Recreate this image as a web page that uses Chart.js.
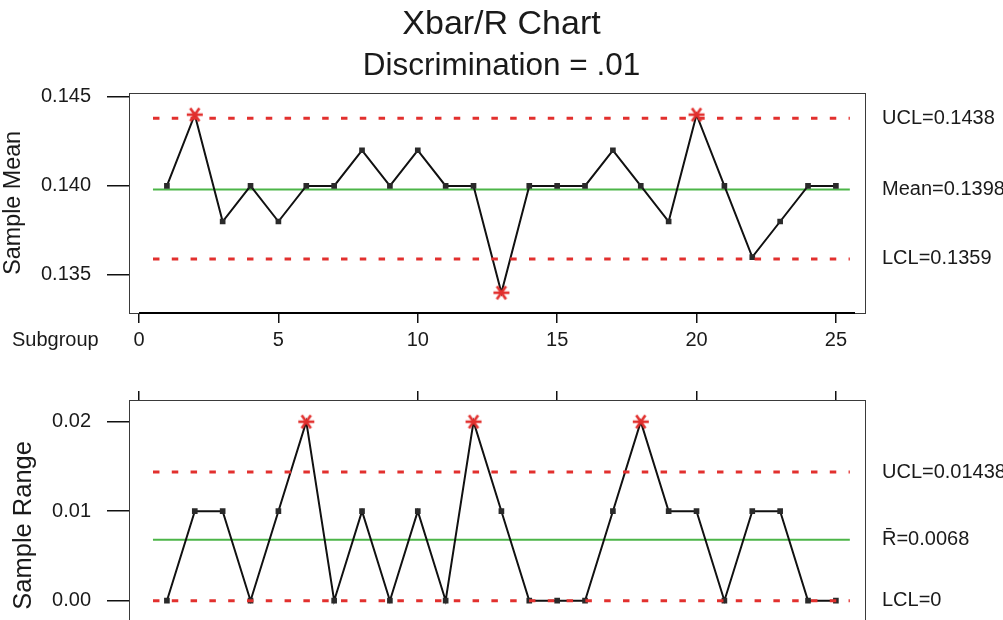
<!DOCTYPE html>
<html><head><meta charset="utf-8">
<script src="https://cdn.jsdelivr.net/npm/chart.js@4/dist/chart.umd.min.js"></script>
<style>
html,body{margin:0;padding:0;background:#fff;overflow:hidden;width:1003px;height:620px;position:relative}
#c1{position:absolute;left:0;top:0}
#c2{position:absolute;left:0;top:365px}
</style></head><body>
<canvas id="c1" width="1003" height="365"></canvas>
<canvas id="c2" width="1003" height="320"></canvas>
<script>
// ---- data ----
const subgroups = [1,2,3,4,5,6,7,8,9,10,11,12,13,14,15,16,17,18,19,20,21,22,23,24,25];
const sampleMeans = [0.140,0.144,0.138,0.140,0.138,0.140,0.140,0.142,0.140,0.142,0.140,0.140,0.134,0.140,0.140,0.140,0.142,0.140,0.138,0.144,0.140,0.136,0.138,0.140,0.140];
const sampleRanges = [0,0.01,0.01,0,0.01,0.02,0,0.01,0,0.01,0,0.02,0.01,0,0,0,0.01,0.02,0.01,0.01,0,0.01,0.01,0,0];
const meanLimits = [0.1438, 0.1398, 0.1359];       // UCL, centre, LCL
const meanLimitLabels = ['UCL=0.1438', 'Mean=0.1398', 'LCL=0.1359'];
const rangeLimits = [0.01438, 0.0068, 0];          // UCL, centre, LCL
const rangeLimitLabels = ['UCL=0.01438', 'R\u0304=0.0068', 'LCL=0'];
const meanTicks = [0.135, 0.140, 0.145];
const rangeTicks = [0.00, 0.01, 0.02];
const subgroupTicks = [0, 5, 10, 15, 20, 25];
const limitSpan = [0.5, 25.5];

// ---- styles ----
const FONT = "'Liberation Sans', Arial, sans-serif";
const TXT = '#1a1a1a';
const RED = '#e2302e';
const GREEN = '#4cb548';

function makeStar(){
  const c = document.createElement('canvas'); c.width = 20; c.height = 20;
  const g = c.getContext('2d'); g.strokeStyle = RED; g.lineWidth = 2.6; g.translate(10,10);
  const r = 8;
  for (const a of [0, 55, 125]) {
    const t = a*Math.PI/180;
    g.beginPath(); g.moveTo(-r*Math.cos(t), -r*Math.sin(t)); g.lineTo(r*Math.cos(t), r*Math.sin(t)); g.stroke();
  }
  return c;
}
const STAR = makeStar();

function pts(xs, ys){ return xs.map((x,i)=>({x:x, y:ys[i]})); }
function limitLine(v, dashed){
  return {
    data: pts(limitSpan, [v, v]), borderColor: dashed ? RED : GREEN, borderWidth: dashed ? 3 : 2,
    borderDash: dashed ? [6.5, 12.3] : [], borderCapStyle: 'butt', pointRadius: 0, order: dashed ? 0 : 2,
    xAxisID: 'x', yAxisID: 'y'
  };
}
function series(ys, ucl, lcl){
  return {
    data: pts(subgroups, ys), borderColor: '#111', borderWidth: 2, order: 1,
    pointStyle: c => (c.raw && (c.raw.y > ucl + 1e-9 || c.raw.y < lcl - 1e-9)) ? STAR : 'rect',
    pointRadius: 4, pointBackgroundColor: '#2a2a2a', pointBorderWidth: 0,
    xAxisID: 'x', yAxisID: 'y'
  };
}
const framePlugin = {
  id: 'frame',
  afterDraw(chart, args, opts){
    const {ctx, chartArea: a} = chart;
    ctx.save();
    ctx.strokeStyle = '#3a3a3a'; ctx.lineWidth = 1;
    ctx.strokeRect(Math.round(a.left)+0.5, Math.round(a.top)+0.5, Math.round(a.right-a.left)-1, Math.round(a.bottom-a.top));
    if (opts.axisLine) {
      const xs = chart.scales.x;
      ctx.strokeStyle = '#000'; ctx.lineWidth = 2.2;
      ctx.beginPath(); ctx.moveTo(xs.getPixelForValue(subgroupTicks[0]), a.bottom); ctx.lineTo(a.right - 11, a.bottom); ctx.stroke();
    }
    if (opts.subgroupText) {
      ctx.fillStyle = TXT; ctx.font = '20px ' + FONT; ctx.textBaseline = 'middle'; ctx.textAlign = 'left';
      ctx.fillText(opts.subgroupText, 12, a.bottom + 27);
    }
    ctx.restore();
  }
};

function yScales(min, max, ticks, fmt, title, titleSize, titlePad, limits, labels){
  return {
    y: {
      position: 'left', min: min, max: max,
      afterBuildTicks: s => { s.ticks = ticks.map(v => ({value: v})); },
      afterFit: s => { s.width = 129; },
      grid: {drawOnChartArea: false, drawTicks: true, tickLength: 22, color: '#111', lineWidth: 1.5},
      border: {display: false},
      ticks: {padding: 16, color: TXT, font: {family: FONT, size: 20}, callback: v => v.toFixed(fmt)},
      title: {display: true, text: title, color: TXT, font: {family: FONT, size: titleSize, lineHeight: 1}, padding: {top: titlePad, bottom: 0}}
    },
    y2: {
      position: 'right', min: min, max: max,
      afterBuildTicks: s => { s.ticks = limits.map(v => ({value: v})); },
      afterFit: s => { s.width = 137; },
      grid: {display: false, drawTicks: false},
      border: {display: false},
      ticks: {padding: 16, color: TXT, font: {family: FONT, size: 20}, autoSkip: false,
        callback: v => { const i = limits.findIndex(l => Math.abs(l - v) < 1e-9); return i >= 0 ? labels[i] : ''; }}
    }
  };
}

Chart.defaults.font.family = FONT;

new Chart(document.getElementById('c1'), {
  type: 'line',
  data: { datasets: [
    limitLine(meanLimits[0], true), limitLine(meanLimits[2], true),
    series(sampleMeans, meanLimits[0], meanLimits[2]),
    limitLine(meanLimits[1], false)
  ]},
  options: {
    responsive: false, animation: false, events: [],
    layout: {padding: 0},
    plugins: {
      legend: {display: false}, tooltip: {enabled: false},
      title: {display: true, text: 'Xbar/R Chart', color: TXT, font: {family: FONT, size: 34, weight: 'normal', lineHeight: 1.2}, padding: {top: 4, bottom: 3}},
      subtitle: {display: true, text: 'Discrimination = .01', color: TXT, font: {family: FONT, size: 31.5, weight: 'normal', lineHeight: 1.2}, padding: {top: 0, bottom: 7}},
      frame: {axisLine: true, subgroupText: 'Subgroup'}
    },
    scales: Object.assign({
      x: {
        type: 'linear', position: 'bottom', min: -0.36, max: 26.08,
        afterBuildTicks: s => { s.ticks = subgroupTicks.map(v => ({value: v})); },
        afterFit: s => { s.height = 52; },
        grid: {drawOnChartArea: false, drawTicks: true, tickLength: 10, color: '#111', lineWidth: 1.5},
        border: {display: false},
        ticks: {padding: 5, color: TXT, font: {family: FONT, size: 20}, maxRotation: 0, autoSkip: false}
      }
    }, yScales(0.13286, 0.14524, meanTicks, 3, 'Sample Mean', 23.3, 2, meanLimits, meanLimitLabels))
  },
  plugins: [framePlugin]
});

new Chart(document.getElementById('c2'), {
  type: 'line',
  data: { datasets: [
    limitLine(rangeLimits[0], true), limitLine(rangeLimits[2], true),
    series(sampleRanges, rangeLimits[0], rangeLimits[2]),
    limitLine(rangeLimits[1], false)
  ]},
  options: {
    responsive: false, animation: false, events: [],
    layout: {padding: {top: 26, bottom: 62.6, left: 0, right: 0}},
    plugins: {
      legend: {display: false}, tooltip: {enabled: false},
      frame: {axisLine: false}
    },
    scales: Object.assign({
      x: {
        type: 'linear', position: 'top', min: -0.36, max: 26.08,
        afterBuildTicks: s => { s.ticks = subgroupTicks.map(v => ({value: v})); },
        afterFit: s => { s.height = 9; },
        grid: {drawOnChartArea: false, drawTicks: true, tickLength: 9, lineWidth: 1.5,
          color: c => (c.tick && c.tick.value === 5) ? 'rgba(0,0,0,0)' : '#111'},
        border: {display: false},
        ticks: {display: false}
      }
    }, yScales(-0.002425, 0.022425, rangeTicks, 2, 'Sample Range    ', 25.5, 11, rangeLimits, rangeLimitLabels))
  },
  plugins: [framePlugin]
});
</script>
</body></html>
